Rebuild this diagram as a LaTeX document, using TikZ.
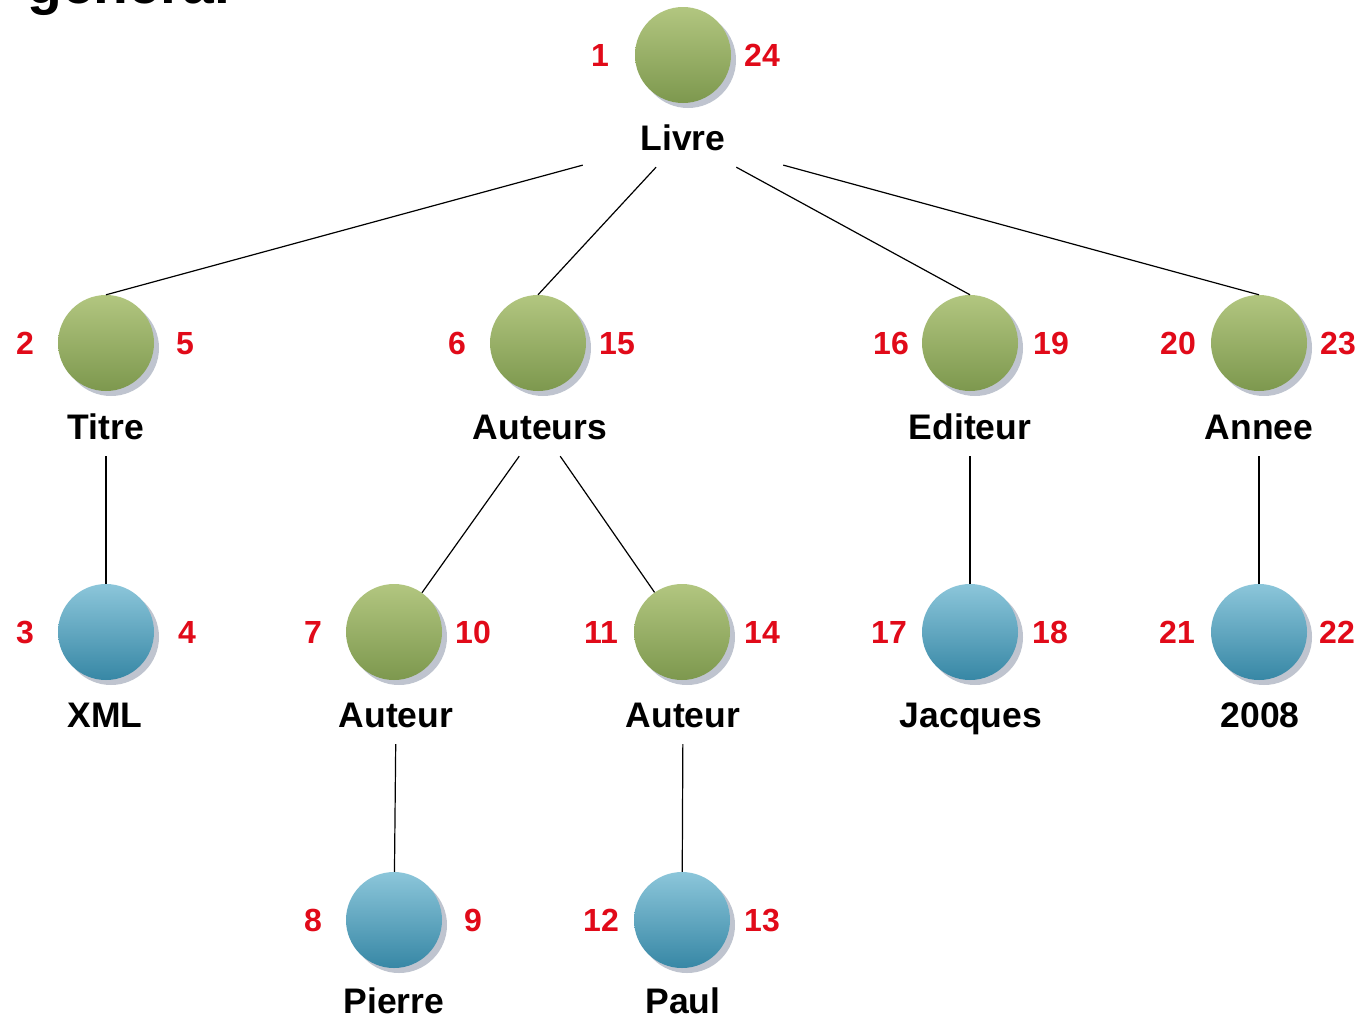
\documentclass[tikz,border=0pt]{standalone}
\usepackage{fontspec}
\setmainfont{Liberation Sans}
\usetikzlibrary{shadows}
\definecolor{gtop}{RGB}{178,198,128}
\definecolor{gbot}{RGB}{125,152,78}
\definecolor{btop}{RGB}{140,198,218}
\definecolor{bbot}{RGB}{55,135,165}
\definecolor{numred}{RGB}{225,10,25}
\definecolor{shadowc}{RGB}{175,182,195}
\tikzset{
  ball/.style={circle, minimum size=96pt, inner sep=0pt,
    drop shadow={shadow xshift=5pt, shadow yshift=-5pt, fill=shadowc, opacity=0.8}},
  greenball/.style={ball, top color=gtop, bottom color=gbot},
  blueball/.style={ball, top color=btop, bottom color=bbot},
  lbl/.style={rectangle, minimum width=200pt, minimum height=58pt, inner sep=0pt,
    text height=25pt, text depth=0pt, font=\fontsize{35.5}{36}\selectfont\bfseries},
  leaflbl/.style={lbl, minimum width=0pt, minimum height=0pt},
  num/.style={text=numred, inner sep=0pt, text height=23pt, text depth=0pt,
    font=\fontsize{32}{32}\selectfont\bfseries},
  conn/.style={draw=black, line width=1.2pt}
}
\begin{document}
\begin{tikzpicture}[x=1pt,y=-1pt]
\useasboundingbox[fill=white] (0,0) rectangle (1360,1018);
% cut-off title
\node[anchor=base west, inner sep=0pt, font=\fontsize{57}{57}\selectfont\bfseries] (title) at (27,3) {général};
% balls
\node[greenball] (livre) at (683,55) {};
\node[greenball] (titre) at (106,343) {};
\node[greenball] (auteurs) at (538,343) {};
\node[greenball] (editeur) at (970,343) {};
\node[greenball] (annee) at (1259,343) {};
\node[blueball] (xml) at (106,632) {};
\node[greenball] (auteurA) at (394,632) {};
\node[greenball] (auteurB) at (682,632) {};
\node[blueball] (jacques) at (970,632) {};
\node[blueball] (y2008) at (1259,632) {};
\node[blueball] (pierre) at (394,920) {};
\node[blueball] (paul) at (682,920) {};
% labels
\node[lbl] (livreL) at (683,138) {Livre};
\node[lbl] (titreL) at (106,427) {Titre};
\node[lbl] (auteursL) at (540,427) {Auteurs};
\node[lbl] (editeurL) at (970,427) {Editeur};
\node[lbl] (anneeL) at (1259,427) {Annee};
\node[leaflbl] (xmlL) at (105,715) {XML};
\node[lbl] (auteurAL) at (396,715) {Auteur};
\node[lbl] (auteurBL) at (683,715) {Auteur};
\node[leaflbl] (jacquesL) at (971,715) {Jacques};
\node[leaflbl] (y2008L) at (1260,715) {2008};
\node[leaflbl] (pierreL) at (394,1001) {Pierre};
\node[leaflbl] (paulL) at (683,1001) {Paul};
% numbers
\node[num] (n1) at (600,55) {1};
\node[num] (n24) at (762,55) {24};
\node[num] (n2) at (25,343) {2};
\node[num] (n5) at (185,343) {5};
\node[num] (n6) at (457,343) {6};
\node[num] (n15) at (617,343) {15};
\node[num] (n16) at (891,343) {16};
\node[num] (n19) at (1051,343) {19};
\node[num] (n20) at (1178,343) {20};
\node[num] (n23) at (1338,343) {23};
\node[num] (n3) at (25,632) {3};
\node[num] (n4) at (187,632) {4};
\node[num] (n7) at (313,632) {7};
\node[num] (n10) at (473,632) {10};
\node[num] (n11) at (601,632) {11};
\node[num] (n14) at (762,632) {14};
\node[num] (n17) at (889,632) {17};
\node[num] (n18) at (1050,632) {18};
\node[num] (n21) at (1177,632) {21};
\node[num] (n22) at (1337,632) {22};
\node[num] (n8) at (313,920) {8};
\node[num] (n9) at (473,920) {9};
\node[num] (n12) at (601,920) {12};
\node[num] (n13) at (762,920) {13};
% connectors
\draw[conn] (livreL) -- (titre.north);
\draw[conn] (livreL) -- (auteurs.north);
\draw[conn] (livreL) -- (editeur.north);
\draw[conn] (livreL) -- (annee.north);
\draw[conn] (titreL) -- (xml);
\draw[conn] (auteursL) -- (auteurA);
\draw[conn] (auteursL) -- (auteurB);
\draw[conn] (editeurL) -- (jacques);
\draw[conn] (anneeL) -- (y2008);
\draw[conn] (auteurAL) -- (pierre);
\draw[conn] (auteurBL) -- (paul);
\end{tikzpicture}
\end{document}
